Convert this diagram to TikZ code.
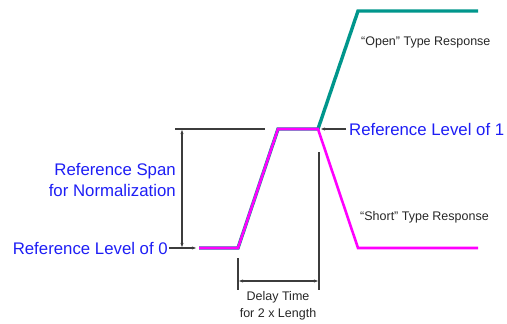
\documentclass[tikz,border=0pt]{standalone}
\usepackage{fontspec}
\setmainfont{Liberation Sans}
\usetikzlibrary{arrows.meta}
\definecolor{refblue}{RGB}{30,30,245}
\definecolor{tealc}{RGB}{0,150,140}
\definecolor{magc}{RGB}{255,0,255}
\definecolor{dimc}{RGB}{60,60,60}
\begin{document}
\begin{tikzpicture}[x=1pt,y=-1pt,
  bluetxt/.style={text=refblue,font=\fontsize{16.8}{20}\selectfont,inner sep=0pt},
  smalltxt/.style={text=black!85,font=\fontsize{12.5}{16}\selectfont,inner sep=0pt},
  dimline/.style={draw=dimc,line width=1.1pt},
  dimarrow/.style={dimline,-{Stealth[length=4pt,width=3pt]}},
  dimboth/.style={dimline,{Stealth[length=4pt,width=3pt]}-{Stealth[length=4pt,width=3pt]}},
  openwave/.style={draw=tealc,line width=3.4pt,line join=miter},
  shortwave/.style={draw=magc,line width=2.6pt,line join=miter}]
\useasboundingbox (0,0) rectangle (507,324);
% waveform corners
\coordinate (s0) at (199,248);
\coordinate (s1) at (238,248);
\coordinate (s2) at (278,129);
\coordinate (s3) at (318,129);
\coordinate (o4) at (358,11);
\coordinate (o5) at (478,11);
\coordinate (m4) at (358,248);
\coordinate (m5) at (478,248);
% open response (teal)
\draw[openwave] (s0) -- (s1) -- (s2) -- (s3) -- (o4) -- (o5);
% short response (magenta), slightly offset
\begin{scope}[shift={(-1,1)}]
\draw[shortwave] (s0) -- (s1) -- (s2) -- (s3) -- (m4) -- (m5);
\end{scope}
% reference span
\coordinate (topL) at (175,129);
\coordinate (topR) at (265,129);
\draw[dimline] (topL) -- (topR);
\coordinate (spT) at (182,130);
\coordinate (spB) at (182,247);
\draw[dimboth] (spT) -- (spB);
\node[bluetxt,anchor=east,align=right] (span) at (176,180) {Reference Span\\[1pt]for Normalization};
% reference level 0
\node[bluetxt,anchor=east] (l0) at (168,248) {Reference Level of 0};
\coordinate (l0tip) at (196,248);
\draw[dimarrow] ([xshift=1pt]l0.east) -- (l0tip);
% reference level 1
\node[bluetxt,anchor=west] (l1) at (349,129) {Reference Level of 1};
\coordinate (l1tip) at (321,129);
\draw[dimarrow] ([xshift=-3pt]l1.west) -- (l1tip);
% response labels
\node[smalltxt,anchor=west] (open) at (361,42) {``Open'' Type Response};
\node[smalltxt,anchor=west] (short) at (360,217) {``Short'' Type Response};
% delay time
\coordinate (dL1) at (238,258);
\coordinate (dL2) at (238,290);
\coordinate (dR1) at (319,152);
\coordinate (dR2) at (319,290);
\draw[dimline] (dL1) -- (dL2);
\draw[dimline] (dR1) -- (dR2);
\coordinate (daL) at (239,281);
\coordinate (daR) at (318,281);
\draw[dimboth] (daL) -- (daR);
\node[smalltxt,align=center,anchor=north] (delay) at (278,291) {Delay Time\\[1pt]for 2 x Length};
\end{tikzpicture}
\end{document}
